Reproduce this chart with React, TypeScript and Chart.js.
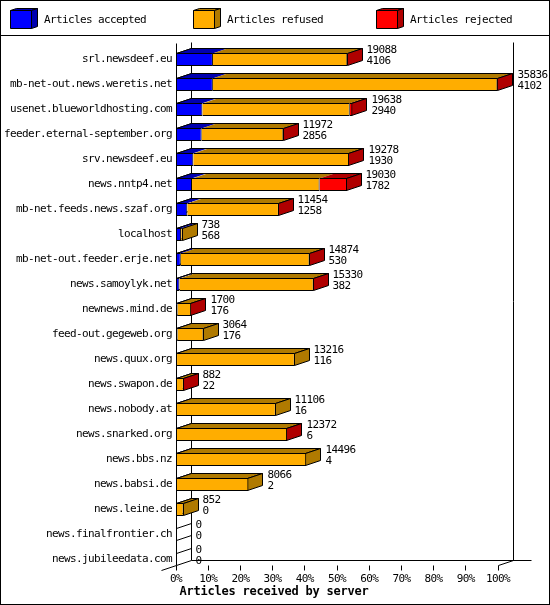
import React, { useEffect, useRef } from "react";
import { Chart, registerables } from "chart.js";

Chart.register(...registerables);

const servers = [
  "srl.newsdeef.eu", "mb-net-out.news.weretis.net", "usenet.blueworldhosting.com",
  "feeder.eternal-september.org", "srv.newsdeef.eu", "news.nntp4.net",
  "mb-net.feeds.news.szaf.org", "localhost", "mb-net-out.feeder.erje.net",
  "news.samoylyk.net", "newnews.mind.de", "feed-out.gegeweb.org", "news.quux.org",
  "news.swapon.de", "news.nobody.at", "news.snarked.org", "news.bbs.nz",
  "news.babsi.de", "news.leine.de", "news.finalfrontier.ch", "news.jubileedata.com",
];
const totals = [19088, 35836, 19638, 11972, 19278, 19030, 11454, 738, 14874, 15330, 1700, 3064, 13216, 882, 11106, 12372, 14496, 8066, 852, 0, 0];
const accepted = [4106, 4102, 2940, 2856, 1930, 1782, 1258, 568, 530, 382, 176, 176, 116, 22, 16, 6, 4, 2, 0, 0, 0];
const refused = [14962, 31674, 16398, 9096, 17328, 14198, 10186, 170, 14334, 14938, 1514, 2888, 13100, 850, 11090, 12356, 14492, 8064, 852, 0, 0];
const rejected = [20, 60, 300, 20, 20, 3050, 10, 0, 10, 10, 10, 0, 0, 10, 0, 10, 0, 0, 0, 0, 0];
const maxTotal = 35836;
const xTitle = "Articles received by server";

const DX = 15;
const DY = 5;
const TEXT = "11px 'DejaVu Sans Mono'";
const TEXT_SPACING = "-0.62px";

const snap = (v: number) => Math.floor(v) + 0.5;

function line(ctx: any, pts: number[][]) {
  ctx.beginPath();
  pts.forEach((p, i) => (i ? ctx.lineTo(p[0], p[1]) : ctx.moveTo(p[0], p[1])));
  ctx.stroke();
}
function poly(ctx: any, pts: number[][], fill: string, stroke = true) {
  ctx.beginPath();
  pts.forEach((p, i) => (i ? ctx.lineTo(p[0], p[1]) : ctx.moveTo(p[0], p[1])));
  ctx.closePath();
  ctx.fillStyle = fill;
  ctx.fill();
  if (stroke) ctx.stroke();
}

const box3d = {
  id: "box3d",
  beforeDraw(chart: any) {
    const { ctx, width, height } = chart;
    (ctx as any).letterSpacing = TEXT_SPACING;
    ctx.save();
    ctx.fillStyle = "#fff";
    ctx.fillRect(0, 0, width, height);
    ctx.strokeStyle = "#000";
    ctx.lineWidth = 1;
    ctx.strokeRect(0.5, 0.5, width - 1, height - 1);
    line(ctx, [[0, 35.5], [width, 35.5]]);
    // legend
    const slots = [10, 193, 376];
    chart.data.datasets.forEach((ds: any, i: number) => {
      const x = slots[i] + 0.5;
      poly(ctx, [[x, 10.5], [x + 6, 8.5], [x + 27, 8.5], [x + 21, 10.5]], ds.sideColor);
      poly(ctx, [[x + 21, 10.5], [x + 27, 8.5], [x + 27, 26.5], [x + 21, 28.5]], ds.sideColor);
      poly(ctx, [[x, 10.5], [x + 21, 10.5], [x + 21, 28.5], [x, 28.5]], ds.backgroundColor);
      ctx.fillStyle = "#000";
      ctx.font = TEXT;
      ctx.textAlign = "left";
      ctx.textBaseline = "middle";
      ctx.fillText(ds.label, slots[i] + 34, 20);
    });
    ctx.restore();
  },
  beforeDatasetsDraw(chart: any) {
    const { ctx } = chart;
    const xs = chart.scales.x;
    const ys = chart.scales.y;
    const left = snap(xs.getPixelForValue(0));
    const right = snap(xs.getPixelForValue(maxTotal));
    const floor = snap(ys.getPixelForTick(servers.length - 1) + 6);
    const ceil = snap(ys.getPixelForTick(0) + 6 - 25 + 2);
    ctx.save();
    ctx.strokeStyle = "#000";
    ctx.lineWidth = 1;
    // floor slats, behind the bars
    servers.forEach((_, i) => {
      const c = ys.getPixelForTick(i);
      [c + 6, c - 6.5].forEach((y) => {
        const py = snap(y);
        line(ctx, [[left, py], [left + DX, py - DY]]);
      });
    });
    // back walls and back floor line
    line(ctx, [[left + DX, ceil], [left + DX, floor - DY]]);
    line(ctx, [[right + DX, ceil], [right + DX, floor - DY]]);
    line(ctx, [[left + DX, floor - DY], [right + DX + 18, floor - DY]]);
    line(ctx, [[right, floor], [right + DX, floor - DY]]);
    line(ctx, [[left, floor], [left - DX, floor + DY]]);
    // x ticks
    xs.ticks.forEach((_: any, i: number) => {
      const x = snap(xs.getPixelForTick(i));
      line(ctx, [[x, floor], [x, floor + 5]]);
    });
    // depth faces of each bar
    const metas = chart.data.datasets.map((_: any, i: number) => chart.getDatasetMeta(i));
    servers.forEach((_, j) => {
      const segs: { base: number; end: number; top: number; bottom: number; side: string }[] = [];
      metas.forEach((m: any, i: number) => {
        const el = m.data[j];
        if (!chart.data.datasets[i].data[j]) return;
        const p = el.getProps(["x", "base", "y", "height"], true);
        segs.push({
          base: p.base,
          end: p.x,
          top: snap(p.y - p.height / 2),
          bottom: snap(p.y + p.height / 2 - 1),
          side: chart.data.datasets[i].sideColor,
        });
      });
      if (!segs.length) return;
      const last = segs[segs.length - 1];
      const t = last.top;
      const b = last.bottom;
      const x0 = snap(segs[0].base);
      const x1 = snap(last.end - 0.5);
      segs.forEach((s) => {
        const a = snap(s.base);
        const e = snap(s.end - 0.5);
        poly(ctx, [[a, t], [a + DX, t - DY], [e + DX, t - DY], [e, t]], s.side, false);
      });
      ctx.beginPath();
      ctx.moveTo(x0, t);
      ctx.lineTo(x0 + DX, t - DY);
      ctx.lineTo(x1 + DX, t - DY);
      ctx.lineTo(x1, t);
      ctx.stroke();
      poly(ctx, [[x1, t], [x1 + DX, t - DY], [x1 + DX, b - DY], [x1, b]], last.side);
    });
    ctx.restore();
  },
  afterDatasetsDraw(chart: any) {
    const { ctx } = chart;
    const xs = chart.scales.x;
    const ys = chart.scales.y;
    const left = snap(xs.getPixelForValue(0));
    const floor = snap(ys.getPixelForTick(servers.length - 1) + 6);
    const top = snap(ys.getPixelForTick(0) + 6 - 25 + 5 - 2 + 0);
    ctx.save();
    ctx.strokeStyle = "#000";
    ctx.lineWidth = 1;
    line(ctx, [[left, top], [left, floor]]);
    ctx.fillStyle = "#000";
    ctx.font = TEXT;
    ctx.textAlign = "left";
    ctx.textBaseline = "middle";
    servers.forEach((_, j) => {
      const c = ys.getPixelForTick(j);
      const x = snap(xs.getPixelForValue(totals[j])) + DX + 4;
      ctx.fillText(String(totals[j]), x, c - 9);
      ctx.fillText(String(accepted[j]), x, c + 2);
    });
    (ctx as any).letterSpacing = "-0.22px";
    ctx.font = "bold 12px 'DejaVu Sans Mono'";
    ctx.textAlign = "center";
    ctx.fillText(xTitle, 274, 592);
    (ctx as any).letterSpacing = TEXT_SPACING;
    ctx.restore();
  },
};

export default function App() {
  const ref = useRef<HTMLCanvasElement>(null);
  useEffect(() => {
    const chart = new Chart(ref.current as HTMLCanvasElement, {
      type: "bar",
      plugins: [box3d],
      data: {
        labels: servers,
        datasets: [
          { label: "Articles accepted", data: accepted, backgroundColor: "#0000FF", sideColor: "#0000B0" },
          { label: "Articles refused", data: refused, backgroundColor: "#FFAD00", sideColor: "#B07A00" },
          { label: "Articles rejected", data: rejected, backgroundColor: "#FF0000", sideColor: "#B00000" },
        ] as any,
      },
      options: {
        indexAxis: "y",
        responsive: false,
        animation: false,
        devicePixelRatio: 1,
        layout: { autoPadding: false, padding: { top: 47, right: 52, bottom: 0, left: 0 } },
        datasets: {
          bar: {
            barThickness: 13,
            borderWidth: 1,
            borderColor: "#000",
            inflateAmount: 0,
          },
        },
        plugins: { legend: { display: false }, tooltip: { enabled: false }, title: { display: false } },
        scales: {
          x: {
            stacked: true,
            min: 0,
            max: maxTotal,
            afterFit: (s: any) => { s.height = 33; },
            grid: { display: false, drawTicks: false },
            border: { display: false },
            afterBuildTicks: (s: any) => {
              s.ticks = Array.from({ length: 11 }, (_, i) => ({ value: (maxTotal * i) / 10 }));
            },
            ticks: {
              autoSkip: false,
              maxRotation: 0,
              padding: 1,
              color: "#000",
              font: { family: "'DejaVu Sans Mono'", size: 11 },
              callback: (v: any) => `${Math.round((Number(v) / maxTotal) * 100)}%`,
            },
          },
          y: {
            stacked: true,
            afterFit: (s: any) => { s.width = 176; },
            grid: { display: false, drawTicks: false },
            border: { display: false },
            ticks: {
              autoSkip: false,
              padding: 4,
              color: "#000",
              font: { family: "'DejaVu Sans Mono'", size: 11 },
            },
          },
        },
      } as any,
    });
    return () => chart.destroy();
  }, []);
  return (
    <canvas
      ref={ref}
      width={550}
      height={605}
      style={{ position: "absolute", left: 0, top: 0, display: "block" }}
    />
  );
}
